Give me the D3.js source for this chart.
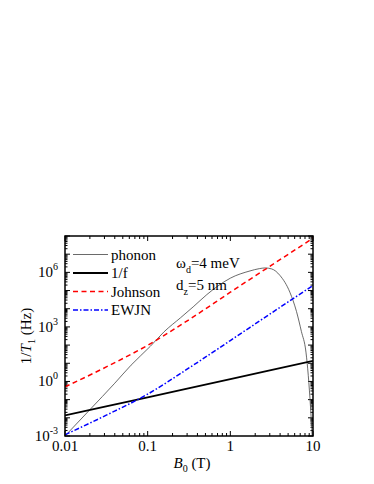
<!DOCTYPE html>
<html>
<head>
<meta charset="utf-8">
<script src="https://cdn.jsdelivr.net/npm/d3@7"></script>
<style>
  body { margin: 0; background: #fff; }
  svg text { font-family: "Liberation Serif", "DejaVu Serif", serif; }
</style>
</head>
<body>
<svg id="chart"></svg>
<script>
const width = 374;
const height = 484;

// magnetic field B0 (T) and relaxation rates 1/T1 (Hz)
const phononB = [0.01, 0.02, 0.04, 0.063, 0.108, 0.158, 0.25, 0.355, 0.52, 0.71, 1, 1.73, 2.24, 2.63, 3.16, 3.98, 5.25, 6.31, 7.24, 8.22, 8.77, 9.33, 9.77];
const phononRate = [1e-3, 2.8e-2, 0.8, 7.9, 87, 540, 3200, 1.26e4, 6.0e4, 1.8e5, 4.8e5, 1.2e6, 1.6e6, 1.75e6, 1.55e6, 6.8e5, 8.1e4, 7.1e3, 560, 41, 2.1, 0.04, 1e-3];

const flickerB = [0.01, 0.1, 1, 10];
const flickerRate = [0.0135, 0.135, 1.35, 13.5];

const johnsonB = [0.01, 0.0316, 0.1, 0.316, 1, 3.16, 10];
const johnsonRate = [0.5, 6.3, 98, 2500, 8.1e4, 2.5e6, 7.6e7];

const ewjnB = [0.01, 0.0316, 0.1, 0.316, 1, 3.16, 10];
const ewjnRate = [1.17e-3, 0.014, 0.2, 5.5, 178, 5900, 1.9e5];

const xTickValues = [0.01, 0.1, 1, 10];
const xTickLabels = ["0.01", "0.1", "1", "10"];
const yLabelExps = [-3, 0, 3, 6];

const seriesNames = ["phonon", "1/f", "Johnson", "EWJN"];

const series = [
  {name: seriesNames[0], B: phononB, rate: phononRate, color: "#444", width: 0.8, dash: null},
  {name: seriesNames[1], B: flickerB, rate: flickerRate, color: "#000", width: 1.8, dash: null},
  {name: seriesNames[2], B: johnsonB, rate: johnsonRate, color: "#ff0000", width: 1.5, dash: "5,3.5"},
  {name: seriesNames[3], B: ewjnB, rate: ewjnRate, color: "#0000ff", width: 1.5, dash: "5,2,1.5,2"}
];

const plotL = 65, plotR = 313, plotT = 236, plotB = 436;

const x = d3.scaleLog().domain([0.01, 10]).range([plotL, plotR]);
const y = d3.scaleLog().domain([1e-3, 1e8]).range([plotB, plotT]);

const svg = d3.select("#chart")
  .attr("width", width)
  .attr("height", height)
  .attr("font-family", "Liberation Serif, DejaVu Serif, serif");

svg.append("defs").append("clipPath").attr("id", "plot")
  .append("rect")
  .attr("x", plotL).attr("y", plotT)
  .attr("width", plotR - plotL).attr("height", plotB - plotT);

// ticks, all pointing inwards
const xMinor = [];
for (let e = -2; e < 1; e++) for (let k = 2; k <= 9; k++) xMinor.push(k * Math.pow(10, e));
const yMajor = d3.range(-3, 9).map(e => Math.pow(10, e));
const yMinor = [];
for (let e = -3; e < 8; e++) for (let k = 2; k <= 9; k++) yMinor.push(k * Math.pow(10, e));

const ticks = svg.append("g").attr("stroke", "#000").attr("stroke-width", 1);

[[plotB, -1], [plotT, 1]].forEach(([yy, dir]) => {
  ticks.selectAll(null).data(xTickValues).enter().append("line")
    .attr("x1", d => x(d)).attr("x2", d => x(d))
    .attr("y1", yy).attr("y2", yy + dir * 5);
  ticks.selectAll(null).data(xMinor).enter().append("line")
    .attr("x1", d => x(d)).attr("x2", d => x(d))
    .attr("y1", yy).attr("y2", yy + dir * 3);
});

[[plotL, 1], [plotR, -1]].forEach(([xx, dir]) => {
  ticks.selectAll(null).data(yMajor).enter().append("line")
    .attr("x1", xx).attr("x2", xx + dir * 5)
    .attr("y1", d => y(d)).attr("y2", d => y(d));
  ticks.selectAll(null).data(yMinor).enter().append("line")
    .attr("x1", xx).attr("x2", xx + dir * 2.5)
    .attr("y1", d => y(d)).attr("y2", d => y(d));
});

// curves
const line = d3.line()
  .x(d => x(d[0]))
  .y(d => y(d[1]))
  .curve(d3.curveMonotoneX);

const curves = svg.append("g").attr("clip-path", "url(#plot)");
series.forEach(s => {
  curves.append("path")
    .attr("d", line(s.B.map((b, i) => [b, s.rate[i]])))
    .attr("fill", "none")
    .attr("stroke", s.color)
    .attr("stroke-width", s.width)
    .attr("stroke-dasharray", s.dash);
});

// frame
svg.append("rect")
  .attr("x", plotL).attr("y", plotT)
  .attr("width", plotR - plotL).attr("height", plotB - plotT)
  .attr("fill", "none")
  .attr("stroke", "#000")
  .attr("stroke-width", 1.5);

// x tick labels
svg.selectAll(".xl").data(xTickValues).enter().append("text")
  .attr("x", d => x(d))
  .attr("y", 451)
  .attr("text-anchor", "middle")
  .attr("font-size", 15)
  .text((d, i) => xTickLabels[i]);

// y tick labels
const yl = svg.selectAll(".yl").data(yLabelExps).enter().append("text")
  .attr("x", 58)
  .attr("y", d => y(Math.pow(10, d)) + 5)
  .attr("text-anchor", "end")
  .attr("font-size", 15);
yl.append("tspan").text("10");
yl.append("tspan").attr("dy", -7).attr("font-size", 10).text(d => d);

// axis titles
const xt = svg.append("text")
  .attr("x", 192).attr("y", 468)
  .attr("text-anchor", "middle")
  .attr("font-size", 15);
xt.append("tspan").attr("font-style", "italic").text("B");
xt.append("tspan").attr("dy", 4).attr("font-size", 10).text("0");
xt.append("tspan").attr("dy", -4).text(" (T)");

const yt = svg.append("text")
  .attr("transform", "translate(31,336) rotate(-90)")
  .attr("text-anchor", "middle")
  .attr("font-size", 15);
yt.append("tspan").text("1/");
yt.append("tspan").attr("font-style", "italic").text("T");
yt.append("tspan").attr("dy", 4).attr("font-size", 10).text("1");
yt.append("tspan").attr("dy", -4).text(" (Hz)");

// legend
const legendY = [254.5, 273, 291.5, 310];
const legend = svg.append("g");
series.forEach((s, i) => {
  legend.append("line")
    .attr("x1", 73).attr("x2", 108)
    .attr("y1", legendY[i]).attr("y2", legendY[i])
    .attr("stroke", s.color)
    .attr("stroke-width", s.width)
    .attr("stroke-dasharray", s.dash);
  legend.append("text")
    .attr("x", 111).attr("y", legendY[i] + 5)
    .attr("font-size", 15)
    .text(s.name);
});

// parameters
const a1 = svg.append("text").attr("x", 176).attr("y", 268).attr("font-size", 15);
a1.append("tspan").text("ω");
a1.append("tspan").attr("dy", 5).attr("font-size", 10).text("d");
a1.append("tspan").attr("dy", -5).text("=4 meV");

const a2 = svg.append("text").attr("x", 176).attr("y", 290).attr("font-size", 15);
a2.append("tspan").text("d");
a2.append("tspan").attr("dy", 5).attr("font-size", 10).text("z");
a2.append("tspan").attr("dy", -5).text("=5 nm");
</script>
</body>
</html>
